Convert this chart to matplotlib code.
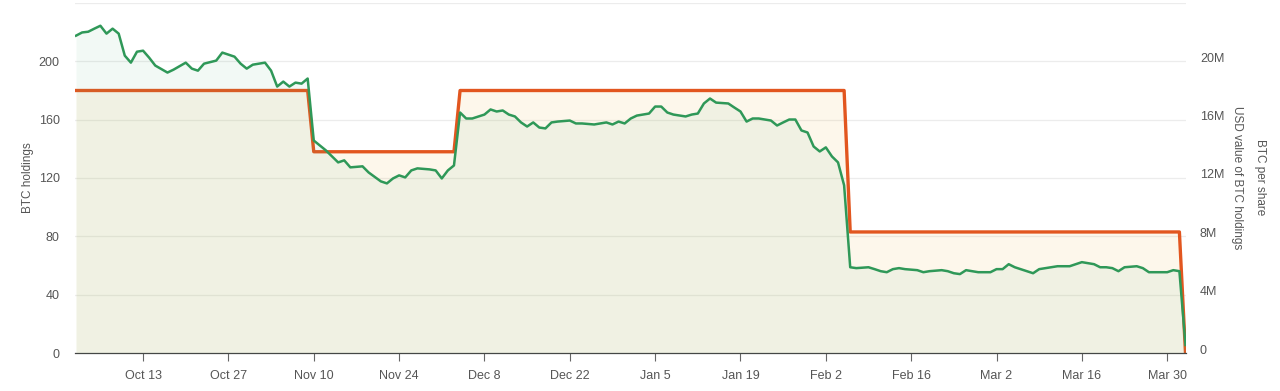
import numpy as np
import pandas as pd
import matplotlib
matplotlib.use("Agg")
import matplotlib.pyplot as plt
from matplotlib.transforms import ScaledTranslation

plt.rcParams['font.family'] = ['Liberation Sans', 'DejaVu Sans']

start = pd.Timestamp('2024-10-02')
end = pd.Timestamp('2025-04-02')

# BTC holdings (left axis) - changes on these dates
hold_dates = ['2024-10-02', '2024-11-10', '2024-12-04', '2025-02-06', '2025-04-02']
hold_vals = [180, 138, 180, 83, 0]

# USD value of BTC holdings (right axis, millions), days after start
green_day = [0, 1, 2, 3, 4, 5, 6, 7, 8, 9, 10, 11, 12, 13, 15, 16, 18, 19, 20, 21,
             23, 24, 26, 27, 28, 29, 31, 32, 33, 34, 35, 36, 37, 38, 39, 40, 41, 43, 44, 45,
             47, 48, 50, 51, 52, 53, 54, 55, 56, 58, 59, 60, 61, 62, 63, 64, 65, 67, 68, 69,
             70, 71, 72, 73, 74, 75, 76, 77, 78, 79, 81, 82, 83, 85, 86, 87, 88, 89, 90, 91,
             92, 94, 95, 96, 97, 98, 100, 101, 102, 103, 104, 105, 107, 108, 109, 110, 111, 112, 113, 114,
             115, 116, 117, 118, 119, 120, 121, 122, 123, 124, 125, 126, 127, 128, 130, 131, 132, 133, 134, 135,
             136, 138, 139, 140, 142, 143, 144, 145, 146, 147, 148, 149, 150, 151, 152, 153, 154, 156, 157, 158,
             160, 161, 163, 164, 165, 167, 168, 169, 170, 171, 172, 174, 175, 176, 178, 179, 180, 181, 182]
green_usd = [21.76, 21.98, 22.03, 22.24, 22.44, 21.90, 22.24, 21.90, 20.39, 19.91, 20.66, 20.73, 20.25, 19.71, 19.23, 19.43, 19.91, 19.50, 19.36, 19.84,
             20.05, 20.60, 20.32, 19.84, 19.50, 19.77, 19.91, 19.36, 18.27, 18.61, 18.27, 18.54, 18.47, 18.82, 14.57, 14.23, 13.89, 13.07, 13.21, 12.73,
             12.80, 12.38, 11.77, 11.63, 11.97, 12.18, 12.04, 12.52, 12.66, 12.59, 12.52, 11.97, 12.52, 12.86, 16.49, 16.08, 16.08, 16.35, 16.70, 16.56,
             16.63, 16.35, 16.22, 15.81, 15.53, 15.81, 15.46, 15.40, 15.81, 15.87, 15.94, 15.74, 15.74, 15.67, 15.74, 15.81, 15.67, 15.87, 15.74, 16.08,
             16.28, 16.42, 16.90, 16.90, 16.49, 16.35, 16.22, 16.35, 16.42, 17.11, 17.45, 17.17, 17.11, 16.83, 16.56, 15.87, 16.08, 16.08, 16.01, 15.94,
             15.60, 15.81, 16.01, 16.01, 15.26, 15.12, 14.16, 13.82, 14.10, 13.48, 13.07, 11.50, 5.88, 5.82, 5.88, 5.75, 5.61, 5.54, 5.75, 5.82,
             5.75, 5.68, 5.54, 5.61, 5.68, 5.61, 5.47, 5.41, 5.68, 5.61, 5.54, 5.54, 5.54, 5.75, 5.75, 6.09, 5.88, 5.61, 5.47, 5.75,
             5.88, 5.95, 5.95, 6.09, 6.23, 6.09, 5.88, 5.88, 5.82, 5.61, 5.88, 5.95, 5.82, 5.54, 5.54, 5.54, 5.68, 5.61, 0.55]

days = pd.date_range(start, end, freq='D')
hold = pd.Series(hold_vals, index=pd.to_datetime(hold_dates)).reindex(days).ffill()
gdates = start + pd.to_timedelta(green_day, unit='D')

fig = plt.figure(figsize=(12.8, 3.91), dpi=100)
ax = fig.add_axes([75/1280, 38/391, 1111/1280, 350/391])
ax2 = ax.twinx()

green = '#2f9858'
orange = '#e2561f'

ax2.fill_between(gdates, 0, green_usd, color='#4fae7a', alpha=0.07, lw=0)
ax2.plot(gdates, green_usd, color=green, lw=1.8, zorder=3)

ax.fill_between(days, 0, hold.values, color='#f2b640', alpha=0.10, lw=0)
ax.plot(days, hold.values, color=orange, lw=2.4, zorder=2)
ax.set_zorder(1)
ax2.set_zorder(2)
ax2.patch.set_visible(False)

ax.set_ylim(0, 240)
ax2.set_ylim(0, 24)
ax.set_xlim(start - pd.Timedelta(hours=4), end + pd.Timedelta(hours=2))

ax.set_yticks([0, 40, 80, 120, 160, 200])
ax2.set_yticks([0, 4, 8, 12, 16, 20])
ax2.set_yticklabels(['0', '4M', '8M', '12M', '16M', '20M'])
for y in [40, 80, 120, 160, 200, 240]:
    ax.axhline(y, color='#ececec', lw=0.9, zorder=0)

xt = pd.date_range('2024-10-13', '2025-03-30', freq='14D')
ax.set_xticks(xt)
ax.set_xticklabels([f"{d:%b} {d.day}" for d in xt])

for a in (ax, ax2):
    for s in a.spines.values():
        s.set_visible(False)
ax.spines['bottom'].set_visible(True)
ax.spines['bottom'].set_color('#444444')
ax.spines['bottom'].set_linewidth(0.9)

ax.tick_params(axis='y', length=0, pad=11, labelsize=9, labelcolor='#555555')
ax2.tick_params(axis='y', length=0, pad=10, labelsize=9, labelcolor='#555555')
ax.tick_params(axis='x', length=6, width=0.8, color='#666666', pad=6, labelsize=9, labelcolor='#555555')
ax2.tick_params(axis='x', length=0)

off = ScaledTranslation(0, 4/100, fig.dpi_scale_trans)
for lab in ax2.get_yticklabels():
    lab.set_transform(lab.get_transform() + off)

fig.text(28/1280, 1 - 178/391, 'BTC holdings', rotation=90, ha='center', va='center',
         fontsize=8.5, color='#555555')
fig.text(1237/1280, 1 - 178/391, 'USD value of BTC holdings', rotation=270, ha='center', va='center',
         fontsize=8.5, color='#555555')
fig.text(1260/1280, 1 - 177/391, 'BTC per share', rotation=270, ha='center', va='center',
         fontsize=8.5, color='#555555')

fig.savefig('out.png', dpi=100, facecolor='white')
